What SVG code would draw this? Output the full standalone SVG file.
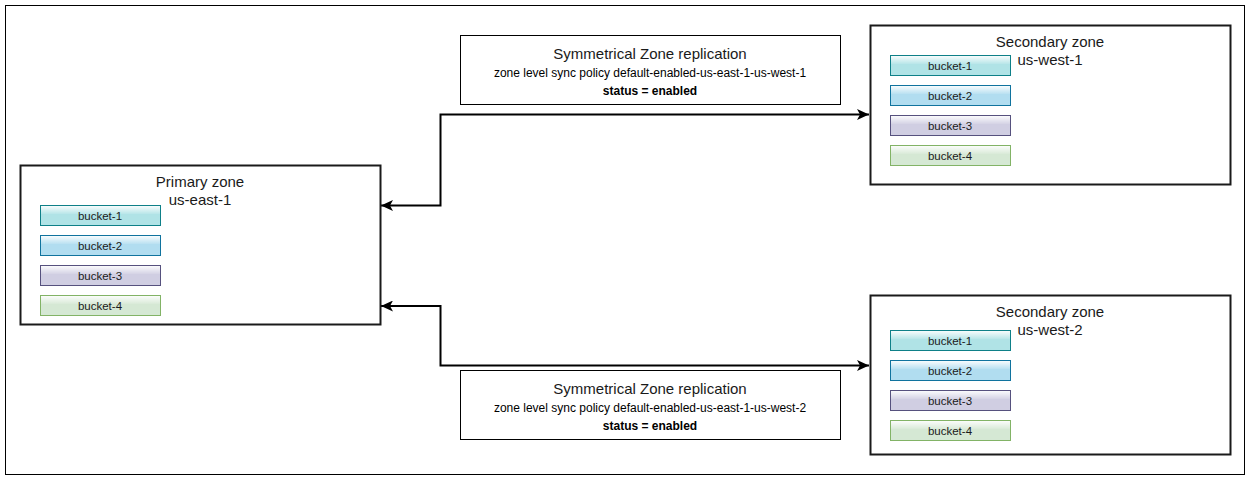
<svg xmlns="http://www.w3.org/2000/svg" width="1251" height="482" viewBox="0 0 1251 482">
<style>
.frame{fill:#fff;stroke:#000;stroke-width:1}
.zone{fill:#fff;stroke:#1a1a1a;stroke-width:2}
.rep{fill:#fff;stroke:#000;stroke-width:1}
.t15{font-family:"Liberation Sans",Arial,sans-serif;font-size:15px;fill:#1a1a1a;text-anchor:middle}
.t12{font-family:"Liberation Sans",Arial,sans-serif;font-size:12px;fill:#000;text-anchor:middle}
.t12b{font-family:"Liberation Sans",Arial,sans-serif;font-size:12px;font-weight:bold;fill:#000;text-anchor:middle}
.bt{font-family:"Liberation Sans",Arial,sans-serif;font-size:11.5px;fill:#1a1a1a;text-anchor:middle}
.b1{fill:#b0e3e6;stroke:#0e8088}
.b2{fill:#b1ddf0;stroke:#10739e}
.b3{fill:#d0cee2;stroke:#56517e}
.b4{fill:#d5e8d4;stroke:#82b366}
.glass{fill:url(#glass)}
.conn{fill:none;stroke:#000;stroke-width:2;marker-start:url(#arr);marker-end:url(#arr)}
</style>
<defs>
<linearGradient id="glass" x1="0" y1="0" x2="0" y2="1">
<stop offset="0" stop-color="#fff" stop-opacity="0.9"/>
<stop offset="1" stop-color="#fff" stop-opacity="0.1"/>
</linearGradient>
<marker id="arr" markerUnits="userSpaceOnUse" viewBox="0 0 12 11" markerWidth="12" markerHeight="11" refX="12" refY="5.5" orient="auto-start-reverse">
<path d="M12,5.5 L0,0 L3,5.5 L0,11 Z" fill="#000"/>
</marker>
</defs>
<rect class="frame" x="5.5" y="5.5" width="1239" height="469"/>

<g id="connectors">
<path class="conn" d="M381,205.5 H440.5 V114.5 H869"/>
<path class="conn" d="M381,306 H440.5 V365.5 H869"/>
</g>

<g id="primary">
<rect class="zone" x="20.5" y="165.5" width="360" height="159"/>
<text class="t15" x="200" y="187">Primary zone</text>
<text class="t15" x="200" y="205">us-east-1</text>
<rect class="b1" x="40.5" y="205.5" width="120" height="20"/><rect class="glass" x="41" y="206" width="119" height="8"/>
<text class="bt" x="100" y="219.5">bucket-1</text>
<rect class="b2" x="40.5" y="235.5" width="120" height="20"/><rect class="glass" x="41" y="236" width="119" height="8"/>
<text class="bt" x="100" y="249.5">bucket-2</text>
<rect class="b3" x="40.5" y="265.5" width="120" height="20"/><rect class="glass" x="41" y="266" width="119" height="8"/>
<text class="bt" x="100" y="279.5">bucket-3</text>
<rect class="b4" x="40.5" y="295.5" width="120" height="20"/><rect class="glass" x="41" y="296" width="119" height="8"/>
<text class="bt" x="100" y="309.5">bucket-4</text>
</g>

<g id="secondary1">
<rect class="zone" x="870.5" y="25.5" width="360" height="159"/>
<text class="t15" x="1050" y="47">Secondary zone</text>
<text class="t15" x="1050" y="65">us-west-1</text>
<rect class="b1" x="890.5" y="55.5" width="120" height="20"/><rect class="glass" x="891" y="56" width="119" height="8"/>
<text class="bt" x="950" y="69.5">bucket-1</text>
<rect class="b2" x="890.5" y="85.5" width="120" height="20"/><rect class="glass" x="891" y="86" width="119" height="8"/>
<text class="bt" x="950" y="99.5">bucket-2</text>
<rect class="b3" x="890.5" y="115.5" width="120" height="20"/><rect class="glass" x="891" y="116" width="119" height="8"/>
<text class="bt" x="950" y="129.5">bucket-3</text>
<rect class="b4" x="890.5" y="145.5" width="120" height="20"/><rect class="glass" x="891" y="146" width="119" height="8"/>
<text class="bt" x="950" y="159.5">bucket-4</text>
</g>

<g id="secondary2">
<rect class="zone" x="870.5" y="295.5" width="360" height="159"/>
<text class="t15" x="1050" y="317">Secondary zone</text>
<text class="t15" x="1050" y="335">us-west-2</text>
<rect class="b1" x="890.5" y="330.5" width="120" height="20"/><rect class="glass" x="891" y="331" width="119" height="8"/>
<text class="bt" x="950" y="344.5">bucket-1</text>
<rect class="b2" x="890.5" y="360.5" width="120" height="20"/><rect class="glass" x="891" y="361" width="119" height="8"/>
<text class="bt" x="950" y="374.5">bucket-2</text>
<rect class="b3" x="890.5" y="390.5" width="120" height="20"/><rect class="glass" x="891" y="391" width="119" height="8"/>
<text class="bt" x="950" y="404.5">bucket-3</text>
<rect class="b4" x="890.5" y="420.5" width="120" height="20"/><rect class="glass" x="891" y="421" width="119" height="8"/>
<text class="bt" x="950" y="434.5">bucket-4</text>
</g>

<g id="replication1">
<rect class="rep" x="460.5" y="35.5" width="380" height="69"/>
<text class="t15" x="650" y="58.5">Symmetrical Zone replication</text>
<text class="t12" x="650" y="76.5">zone level sync policy default-enabled-us-east-1-us-west-1</text>
<text class="t12b" x="650" y="94.5">status = enabled</text>
</g>

<g id="replication2">
<rect class="rep" x="460.5" y="370.5" width="380" height="69"/>
<text class="t15" x="650" y="393.5">Symmetrical Zone replication</text>
<text class="t12" x="650" y="411.5">zone level sync policy default-enabled-us-east-1-us-west-2</text>
<text class="t12b" x="650" y="429.5">status = enabled</text>
</g>
</svg>
